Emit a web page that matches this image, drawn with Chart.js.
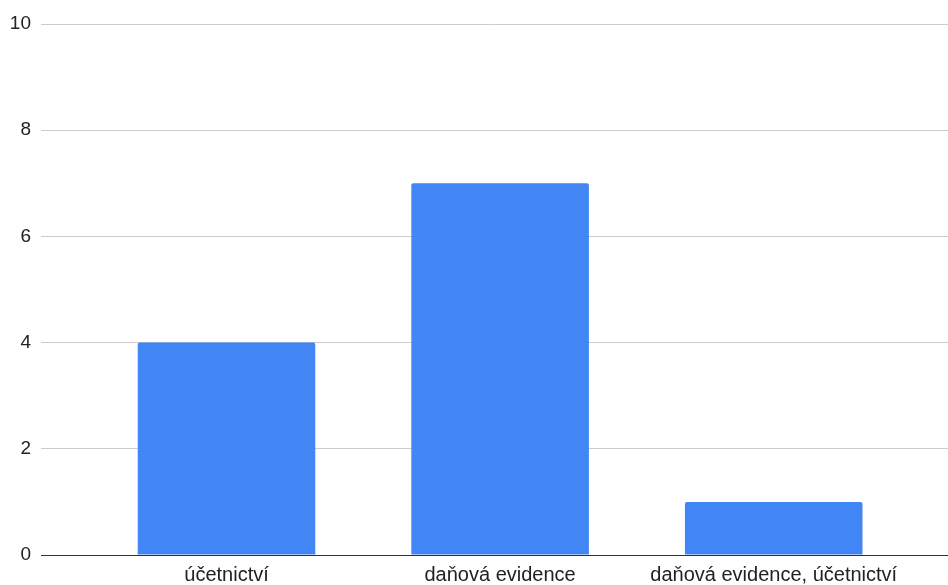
<!DOCTYPE html>
<html>
<head>
<meta charset="utf-8">
<script src="https://cdn.jsdelivr.net/npm/chart.js@4"></script>
<style>
  html, body { margin: 0; padding: 0; background: #fff; }
  #wrap { width: 948px; height: 585px; }
</style>
</head>
<body>
<div id="wrap"><canvas id="chart" width="948" height="585"></canvas></div>
<script>
  // categories and counts
  var categories = ['účetnictví', 'daňová evidence', 'daňová evidence, účetnictví'];
  var counts = [4, 7, 1];
  var positions = [1, 2, 3];
  var yTicks = [0, 2, 4, 6, 8, 10];
  // x range chosen so the bars sit where the original (Google Sheets) puts them
  var xRange = [0.322, 3.637];

  var BAR = '#4285f4';
  var FONT = 'Liberation Sans, Arial, sans-serif';

  var points = positions.map(function (p, i) { return { x: p, y: counts[i] }; });

  new Chart(document.getElementById('chart'), {
    type: 'bar',
    data: {
      datasets: [{
        data: points,
        backgroundColor: BAR,
        borderWidth: 0,
        borderRadius: { topLeft: 2, topRight: 2, bottomLeft: 0, bottomRight: 0 },
        borderSkipped: 'bottom',
        categoryPercentage: 1,
        barPercentage: 0.649,
      }],
    },
    options: {
      responsive: false,
      animation: false,
      layout: { padding: { top: 24, right: 0, left: 0, bottom: 0 } },
      plugins: { legend: { display: false }, tooltip: { enabled: false } },
      scales: {
        x: {
          type: 'linear',
          offset: false,
          min: xRange[0],
          max: xRange[1],
          afterDataLimits: function (scale) { scale.min = xRange[0]; scale.max = xRange[1]; },
          afterBuildTicks: function (scale) {
            scale.ticks = positions.map(function (p) { return { value: p }; });
          },
          afterFit: function (scale) {
            // keep the plot full width, labels must not pad it in
            scale.height = 30;
            scale.paddingLeft = 0;
            scale.paddingRight = 0;
          },
          grid: { display: false, drawTicks: false, offset: false },
          border: { display: true, color: '#333', width: 1 },
          ticks: {
            color: '#222',
            padding: 8,
            maxRotation: 0,
            autoSkip: false,
            font: { family: FONT, size: 20 },
            callback: function (v) {
              var i = positions.indexOf(v);
              return i >= 0 ? categories[i] : '';
            },
          },
        },
        y: {
          min: 0,
          max: 10,
          afterBuildTicks: function (scale) {
            scale.ticks = yTicks.map(function (v) { return { value: v }; });
          },
          afterFit: function (scale) { scale.width = 41; },
          border: { display: false },
          grid: {
            drawTicks: false,
            lineWidth: 1,
            color: function (ctx) { return ctx.tick && ctx.tick.value === 0 ? '#333' : '#ccc'; },
          },
          ticks: {
            color: '#222',
            padding: 10,
            font: { family: FONT, size: 19 },
          },
        },
      },
    },
  });
</script>
</body>
</html>
